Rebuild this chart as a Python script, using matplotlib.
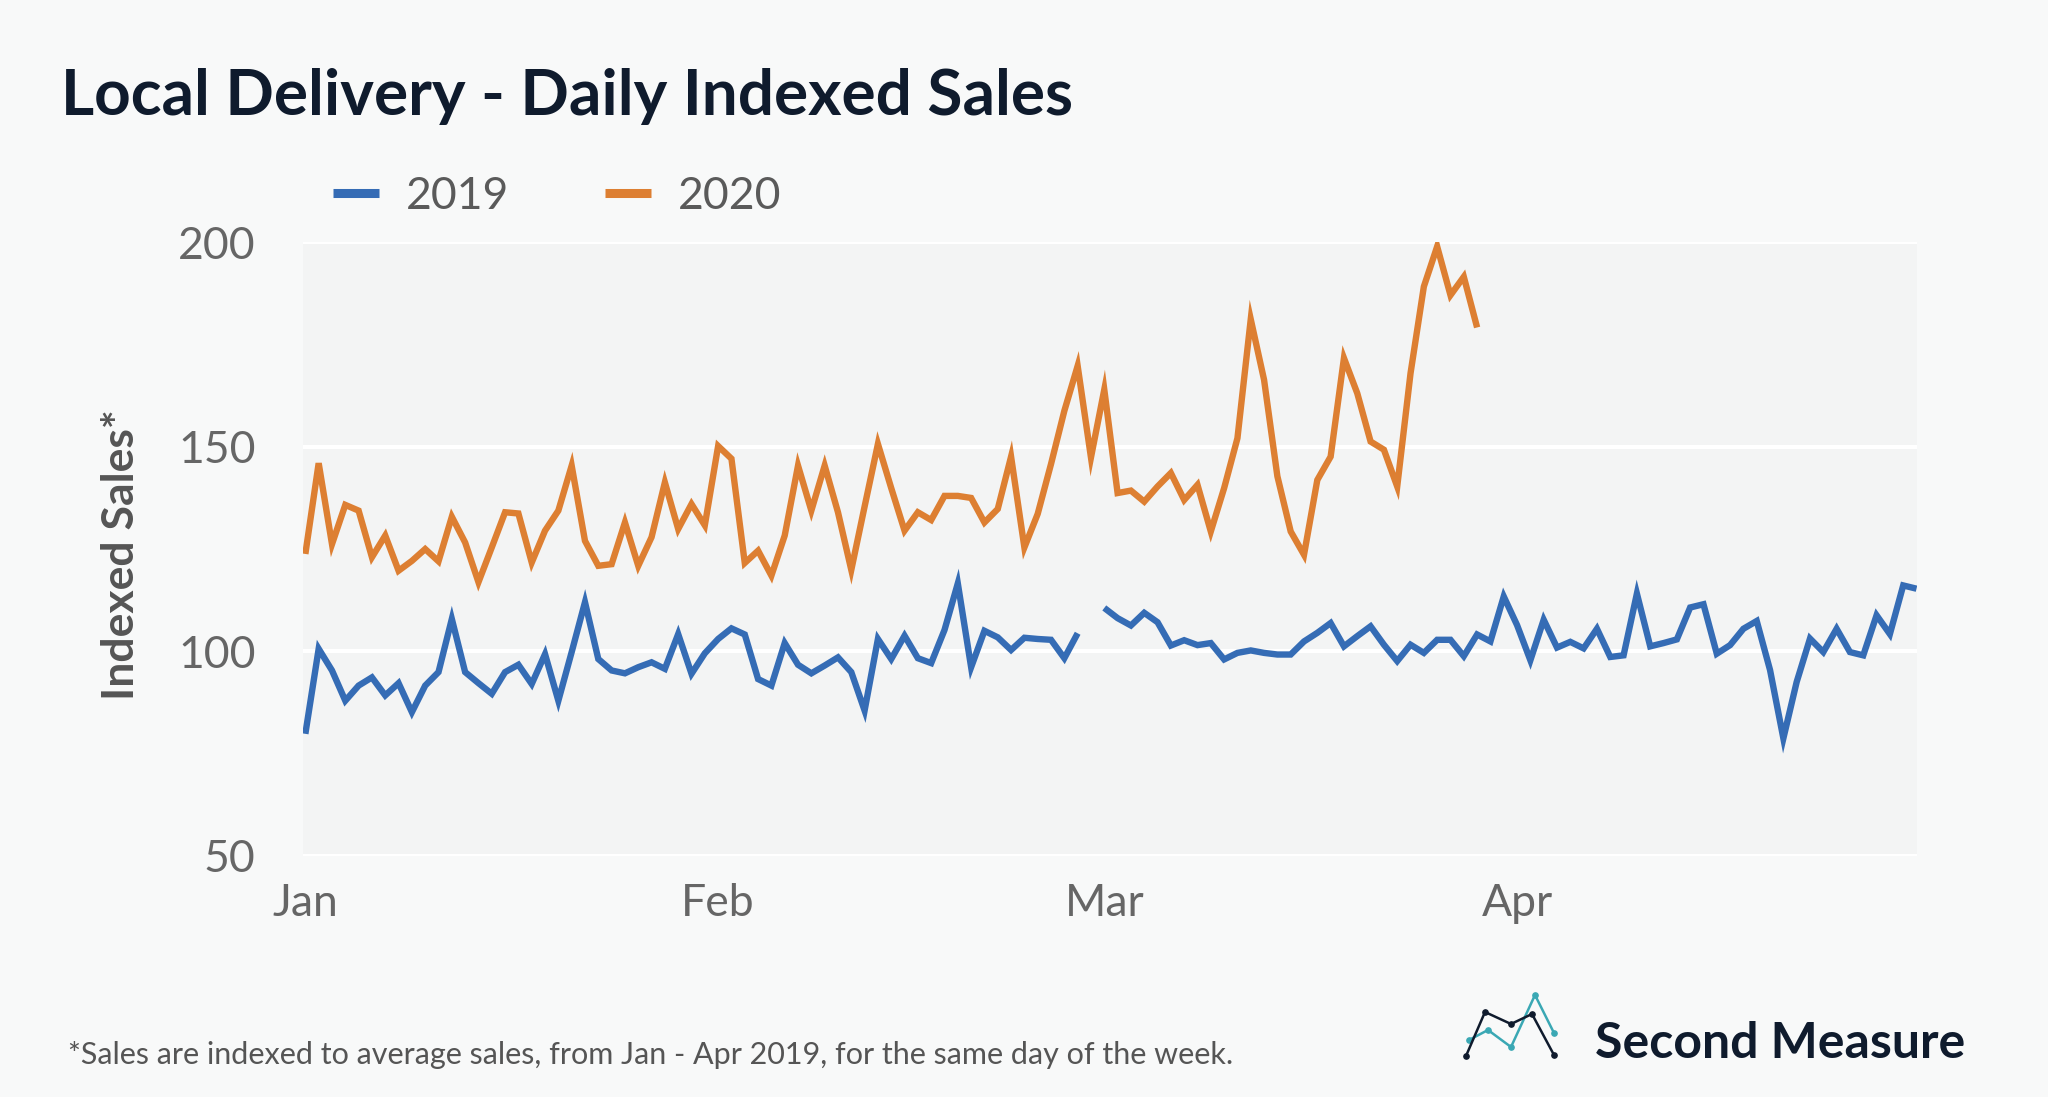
import matplotlib.pyplot as plt
import numpy as np
from matplotlib.lines import Line2D

# Daily indexed sales, day 0 = Jan 1 (2020 calendar, Feb 29 missing for 2019)
sales_2019 = [79.8, 100.6, 95.3, 87.9, 91.6, 93.6, 89.2, 92.2, 85.1, 91.6,
              94.9, 107.9, 94.9, 92.2, 89.6, 94.9, 96.7, 92.0, 99.3, 87.9,
              99.8, 112.0, 98.1, 95.3, 94.6, 96.1, 97.3, 95.7, 104.2, 94.5,
              99.5, 103.0, 105.6, 104.1, 93.2, 91.6, 102.0, 96.7, 94.6, 96.5,
              98.5, 94.9, 85.5, 103.0, 98.1, 103.8, 98.3, 97.1, 105.2, 116.6,
              96.1, 105.0, 103.4, 100.3, 103.3, 103.0, 102.8, 98.3, 104.4, np.nan,
              110.6, 108.1, 106.3, 109.4, 107.1, 101.4, 102.7, 101.5, 102.0, 98.0,
              99.6, 100.2, 99.6, 99.2, 99.2, 102.4, 104.5, 106.9, 101.2, 103.7,
              106.1, 101.6, 97.6, 101.6, 99.6, 102.8, 102.8, 98.8, 104.1, 102.4,
              113.4, 106.4, 97.8, 107.7, 100.9, 102.3, 100.7, 105.5, 98.6, 99.0,
              114.1, 101.2, 102.0, 102.9, 110.7, 111.5, 99.4, 101.5, 105.5, 107.4,
              95.4, 78.7, 92.5, 103.1, 99.8, 105.5, 99.8, 99.0, 108.8, 104.2,
              116.1, 115.3]

sales_2020 = [123.8, 146.0, 126.2, 135.8, 134.4, 123.0, 128.3, 119.7, 122.1, 125.0,
              122.0, 132.9, 126.6, 116.9, 125.4, 134.0, 133.7, 121.7, 129.5, 134.4,
              145.4, 127.0, 120.9, 121.3, 131.5, 120.9, 127.9, 141.3, 129.9, 136.0,
              130.8, 150.2, 147.1, 121.6, 124.6, 118.5, 128.3, 145.4, 134.4, 145.4,
              134.0, 119.9, 135.4, 150.7, 139.9, 129.5, 134.0, 132.1, 138.0, 138.0,
              137.5, 131.5, 134.8, 147.6, 125.4, 133.6, 145.8, 158.8, 169.8, 147.4,
              164.0, 138.7, 139.3, 136.6, 140.3, 143.6, 137.0, 140.7, 129.3, 139.9,
              152.1, 181.2, 166.4, 142.8, 129.3, 123.6, 141.9, 147.6, 171.7, 163.1,
              151.3, 149.3, 140.3, 168.0, 189.2, 199.0, 187.1, 191.6, 179.2]

month_ticks = [0, 31, 60, 91]
month_labels = ['Jan', 'Feb', 'Mar', 'Apr']
y_ticks = [50, 100, 150, 200]

BLUE = '#356cb5'
ORANGE = '#dd7f32'

plt.rcParams['font.family'] = ['Lato', 'DejaVu Sans']

fig = plt.figure(figsize=(20.48, 10.97), dpi=100, facecolor='#f8f9f9')
ax = fig.add_axes([0.1478, 0.220, 0.788, 0.559])
ax.set_facecolor('#f3f4f4')

days_2019 = np.arange(len(sales_2019))
days_2020 = np.arange(len(sales_2020))
ax.plot(days_2019, sales_2019, color=BLUE, lw=4.6,
        solid_joinstyle='miter', solid_capstyle='butt')
ax.plot(days_2020, sales_2020, color=ORANGE, lw=4.6,
        solid_joinstyle='miter', solid_capstyle='butt')

ax.set_xlim(-0.2, 121)
ax.set_ylim(50, 200)
ax.set_yticks(y_ticks)
ax.set_xticks(month_ticks)
ax.set_xticklabels(month_labels)
ax.grid(axis='y', color='white', lw=3)
ax.set_axisbelow(True)
for s in ax.spines.values():
    s.set_visible(False)
ax.tick_params(axis='both', length=0, labelsize=32, labelcolor='#666666')
ax.tick_params(axis='y', pad=34)
ax.tick_params(axis='x', pad=20)

# legend
handles = [Line2D([0], [0], color=BLUE, lw=6.5, solid_capstyle='butt'),
           Line2D([0], [0], color=ORANGE, lw=6.5, solid_capstyle='butt')]
leg = fig.legend(handles, ['2019', '2020'], loc='center left',
                 bbox_to_anchor=(0.1626, 0.821), ncol=2, frameon=False,
                 fontsize=32, handlelength=1.04, handletextpad=0.6,
                 columnspacing=2.15, borderpad=0, borderaxespad=0)
for t in leg.get_texts():
    t.set_color('#5a5a5a')

# texts
fig.text(0.0298, 0.895, 'Local Delivery - Daily Indexed Sales', fontsize=46,
         fontweight='bold', color='#0f1b2d', va='baseline')
fig.text(0.059, 0.494, 'Indexed Sales*', rotation=90, fontsize=32,
         fontweight='bold', color='#555555', ha='center', va='center')
fig.text(0.033, 0.030,
         '*Sales are indexed to average sales, from Jan - Apr 2019, for the same day of the week.',
         fontsize=22, color='#555555', va='baseline')
fig.text(0.779, 0.0356, 'Second Measure', fontsize=36, fontweight='bold',
         color='#0f1b2d', va='baseline')

# logo icon (pixel positions in the figure)
logo_dark = [(1466, 1056), (1485, 1012), (1511, 1024), (1532, 1014), (1554, 1055)]
logo_teal = [(1469, 1040), (1488, 1030), (1511, 1047), (1535, 995), (1554, 1033)]
for pts, col in [(logo_teal, '#3aa8b4'), (logo_dark, '#0f1b2d')]:
    xs = [p[0] / 2048 for p in pts]
    ys = [1 - p[1] / 1097 for p in pts]
    fig.add_artist(Line2D(xs, ys, color=col, lw=1.8, marker='o', ms=3.8,
                          transform=fig.transFigure))

fig.savefig('out.png', dpi=100, facecolor=fig.get_facecolor())
